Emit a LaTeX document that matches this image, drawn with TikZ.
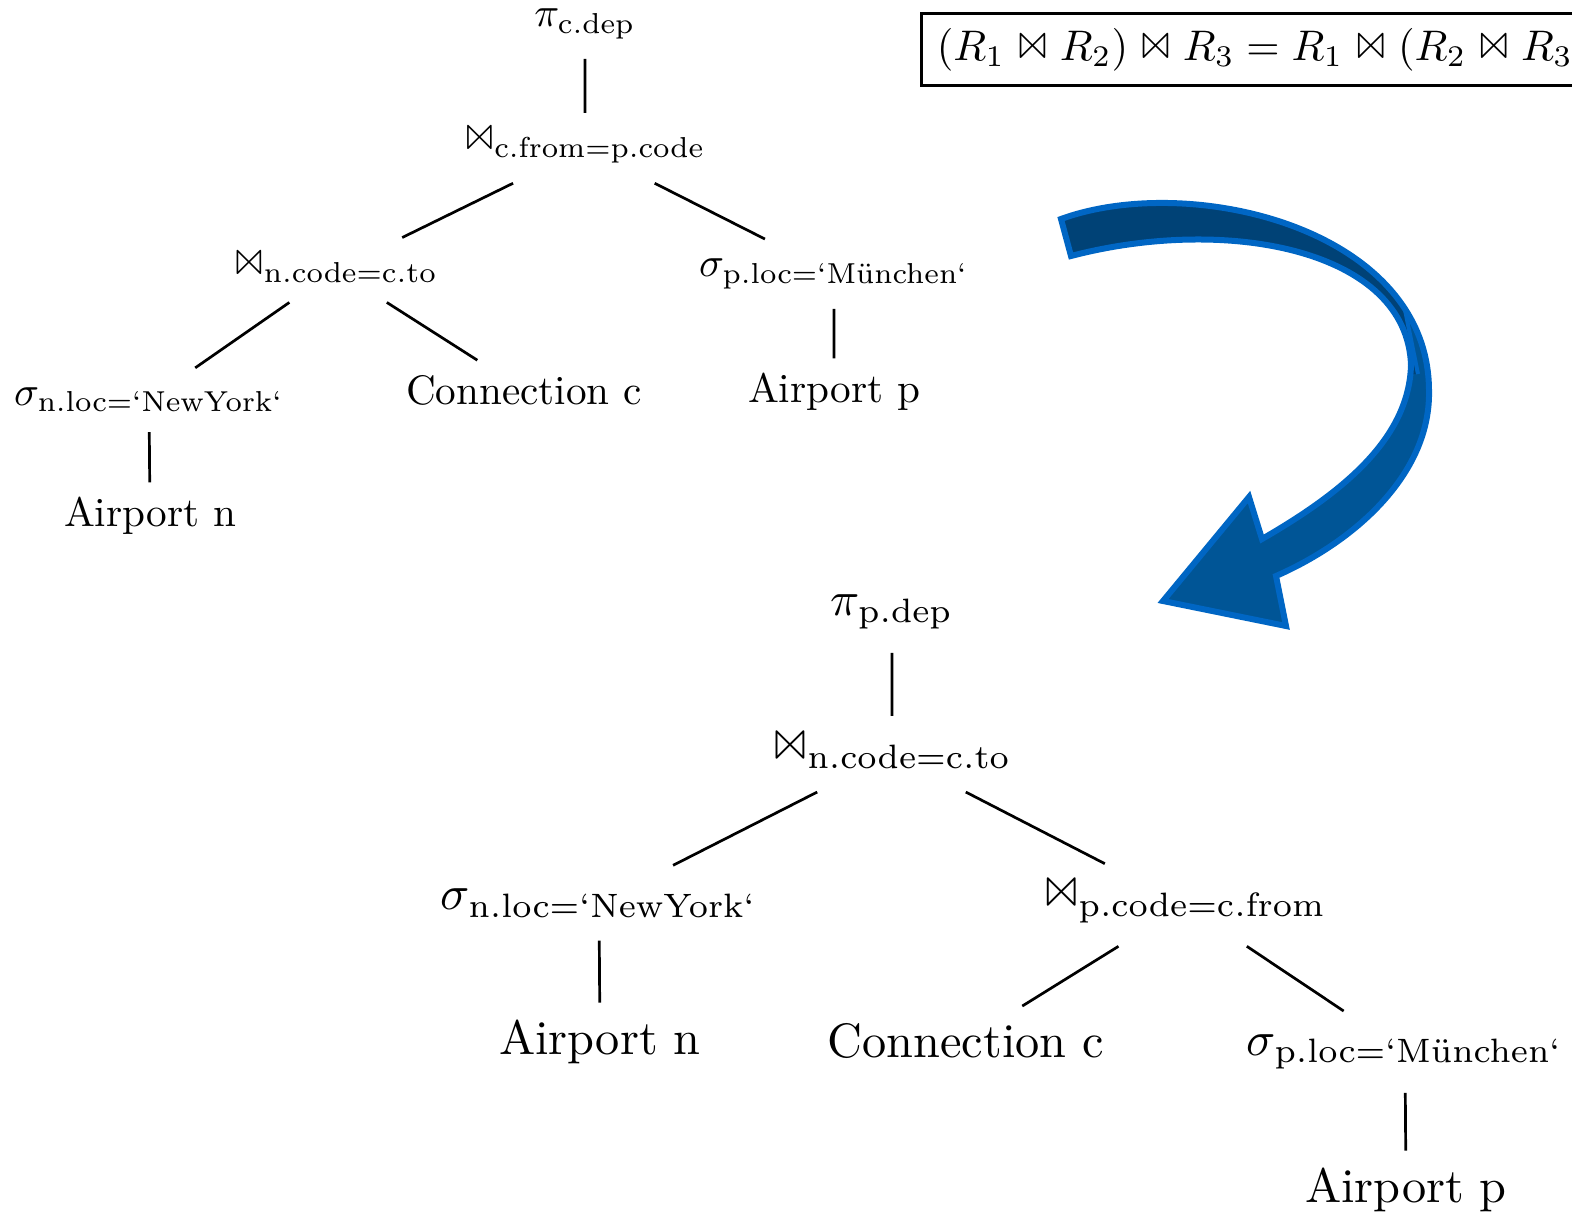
\documentclass[tikz,border=0pt]{standalone}
\usepackage{latexsym}
\begin{document}
\definecolor{arrowline}{HTML}{0066C4}
\definecolor{arrowdark}{HTML}{004276}
\definecolor{arrowlight}{HTML}{005596}
% outline of the curved block arrow (tail top-left, head bottom-left)
\newcommand\turnpath{%
  (1061,219) .. controls (1190,172) and (1428,228) .. (1429,390)
  .. controls (1431,472) and (1358,540) .. (1276,576)
  -- (1286,626) -- (1163,601) -- (1249,497) -- (1262,539)
  .. controls (1340,494) and (1409,440) .. (1411,365)
  .. controls (1407,250) and (1228,215) .. (1071,256)
  -- cycle}
\begin{tikzpicture}[x=1pt, y=-1pt,
  edge/.style={line width=2.7pt},
  upper/.style={scale=4.12, inner sep=4.9pt, outer sep=0pt},
  lower/.style={scale=4.83, inner sep=4.9pt, outer sep=0pt},
  leaf/.style={inner sep=3.6pt}]
\useasboundingbox (0,0) rectangle (1572,1217);
\clip (0,0) rectangle (1572,1217);

% associativity law
\node[draw, line width=3pt, scale=4.28, inner ysep=3.45pt, inner xsep=3.6pt, anchor=west] (law) at (915,49.5)
  {$(R_1 \Join R_2) \Join R_3 = R_1 \Join (R_2 \Join R_3)$};

% first plan
\node[upper] (pi1) at (585,24)  {$\pi_{\mathrm{c.dep}}$};
\node[upper] (j1)  at (585,148) {$\Join_{\mathrm{c.from=p.code}}$};
\node[upper] (j2)  at (336,270) {$\Join_{\mathrm{n.code=c.to}}$};
\node[upper] (s1)  at (834,274) {$\sigma_{\mathrm{p.loc=`M\ddot{u}nchen`}}$};
\node[upper] (s2)  at (149,400) {$\sigma_{\mathrm{n.loc=`New York`}}$};
\node[upper, leaf] (c1)  at (524,390) {Connection c};
\node[upper, leaf] (ap1) at (834,392) {Airport p};
\node[upper, leaf] (an1) at (150,516) {Airport n};
\draw[edge] (pi1) -- (j1);
\draw[edge] (j1) -- (j2);
\draw[edge] (j1) -- (s1);
\draw[edge] (j2) -- (s2);
\draw[edge] (j2) -- (c1);
\draw[edge] (s1) -- (ap1);
\draw[edge] (s2) -- (an1);

% second plan
\node[lower] (pi2) at (892,612)  {$\pi_{\mathrm{p.dep}}$};
\node[lower] (j3)  at (892,754)  {$\Join_{\mathrm{n.code=c.to}}$};
\node[lower] (s3)  at (599,903)  {$\sigma_{\mathrm{n.loc=`New York`}}$};
\node[lower] (j4)  at (1185,905) {$\Join_{\mathrm{p.code=c.from}}$};
\node[lower, leaf] (an2) at (600,1042) {Airport n};
\node[lower, leaf] (c2)  at (966,1041) {Connection c};
\node[lower] (s4)  at (1405,1052) {$\sigma_{\mathrm{p.loc=`M\ddot{u}nchen`}}$};
\node[lower, leaf] (ap2) at (1406,1190) {Airport p};
\draw[edge] (pi2) -- (j3);
\draw[edge] (j3) -- (s3);
\draw[edge] (j3) -- (j4);
\draw[edge] (s3) -- (an2);
\draw[edge] (j4) -- (c2);
\draw[edge] (j4) -- (s4);
\draw[edge] (s4) -- (ap2);

% rewrite arrow: light lower ribbon, dark upper ribbon, twist line, outline
\fill[arrowlight] \turnpath;
\begin{scope}
  \clip \turnpath;
  \fill[arrowdark] (1000,150) -- (1480,150) -- (1480,250) -- (1403,300) -- (1416,374) -- (1000,374) -- cycle;
  \draw[arrowline, line width=4pt] (1403,300) -- (1418,374);
\end{scope}
\draw[arrowline, line width=6pt, line join=miter] \turnpath;
\end{tikzpicture}
\end{document}
